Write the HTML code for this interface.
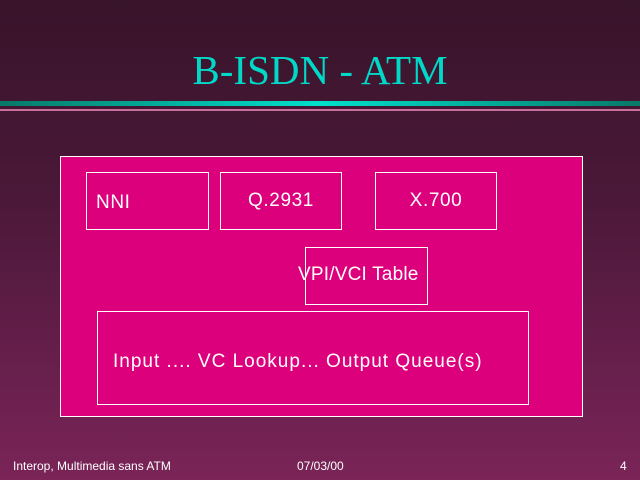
<!DOCTYPE html>
<html><head><style>
body{margin:0;width:640px;height:480px;overflow:hidden;background:linear-gradient(#38142a 0%,#4a1838 40%,#7a2458 100%);font-family:"Liberation Sans",sans-serif;position:relative}
.t{position:absolute;left:0;width:640px;top:46px;text-align:center;font-family:"Liberation Serif",serif;font-size:41px;color:#00d8c8}
.b1{position:absolute;left:0;top:101px;width:640px;height:5px;background:linear-gradient(90deg,#087868,#00e0cc 50%,#087868)}
.b2{position:absolute;left:0;top:109px;width:640px;height:2px;background:#c8709c}
.bx{position:absolute;border:1px solid #fff;background:#dc007c;color:#fff;font-size:19px;letter-spacing:0.6px;box-sizing:border-box}
.f{position:absolute;top:459px;color:#fff;font-size:12px}
</style></head><body>
<div class="t">B-ISDN - ATM</div>
<div class="b1"></div><div class="b2"></div>
<div class="bx" style="left:60px;top:156px;width:523px;height:261px"></div>
<div class="bx" style="left:86px;top:172px;width:123px;height:58px;padding:19px 0 0 9px">NNI</div>
<div class="bx" style="left:220px;top:172px;width:122px;height:58px;text-align:center;padding-top:17px">Q.2931</div>
<div class="bx" style="left:375px;top:172px;width:122px;height:58px;text-align:center;padding-top:17px">X.700</div>
<div class="bx" style="left:305px;top:247px;width:123px;height:58px"></div>
<div style="position:absolute;left:298px;top:264px;color:#fff;font-size:19px;letter-spacing:0.2px">VPI/VCI Table</div>
<div class="bx" style="left:97px;top:311px;width:432px;height:94px;padding:39px 0 0 15px;letter-spacing:1px">Input .... VC Lookup... Output Queue(s)</div>
<div class="f" style="left:13px">Interop, Multimedia sans ATM</div>
<div class="f" style="left:297px">07/03/00</div>
<div class="f" style="left:620px">4</div>
</body></html>
